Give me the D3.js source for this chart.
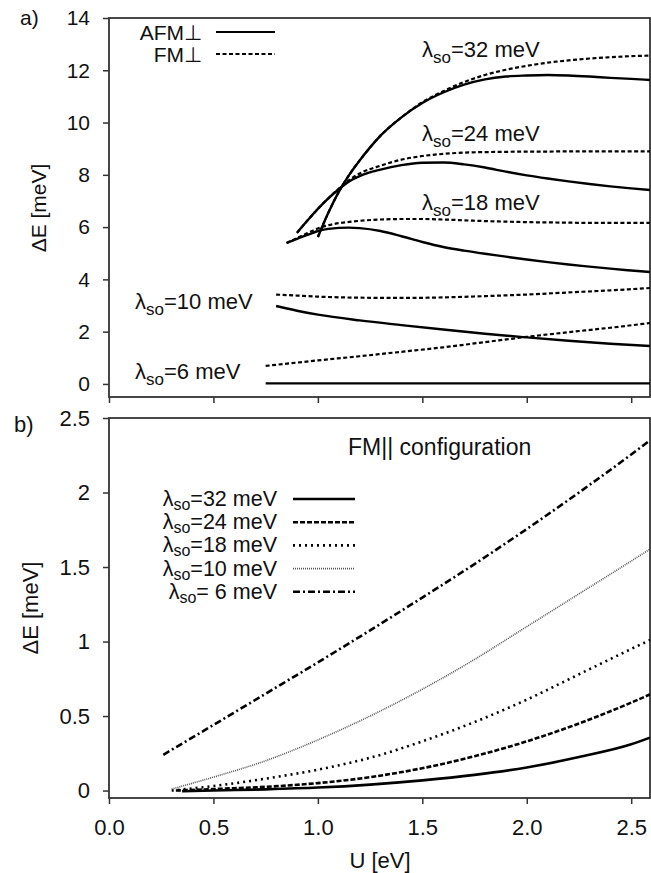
<!DOCTYPE html>
<html>
<head>
<meta charset="utf-8">
<script src="https://cdn.jsdelivr.net/npm/d3@7"></script>
<style>
  body { margin: 0; background: #fff; }
  text { font-family: "Liberation Sans", Arial, sans-serif; fill: #111; }
</style>
</head>
<body>
<div id="chart"></div>
<script>
// ---------------- data: panel a) (perpendicular configurations) ----------------
const u32 = [1.0, 1.05, 1.1, 1.15, 1.2, 1.25, 1.3, 1.4, 1.5, 1.6, 1.7, 1.8, 1.9, 2.0, 2.1, 2.2, 2.3, 2.4, 2.5, 2.59];
const afm32 = [5.62, 6.55, 7.35, 8.0, 8.55, 9.05, 9.5, 10.2, 10.75, 11.15, 11.45, 11.65, 11.76, 11.8, 11.82, 11.8, 11.76, 11.71, 11.67, 11.63];
const fm32 = [5.62, 6.55, 7.35, 8.0, 8.55, 9.05, 9.5, 10.2, 10.78, 11.2, 11.55, 11.82, 12.02, 12.17, 12.29, 12.38, 12.45, 12.5, 12.54, 12.56];

const u24 = [0.9, 0.95, 1.0, 1.05, 1.1, 1.15, 1.2, 1.3, 1.4, 1.5, 1.6, 1.7, 1.8, 1.9, 2.0, 2.1, 2.2, 2.3, 2.4, 2.5, 2.59];
const afm24 = [5.78, 6.25, 6.7, 7.1, 7.45, 7.75, 7.95, 8.2, 8.37, 8.46, 8.47, 8.4, 8.28, 8.12, 7.98, 7.86, 7.75, 7.65, 7.56, 7.48, 7.42];
const fm24 = [5.78, 6.25, 6.7, 7.1, 7.47, 7.8, 8.05, 8.35, 8.58, 8.72, 8.8, 8.85, 8.87, 8.88, 8.89, 8.89, 8.9, 8.9, 8.9, 8.9, 8.9];

const u18 = [0.85, 0.9, 0.95, 1.0, 1.05, 1.1, 1.15, 1.2, 1.3, 1.4, 1.5, 1.6, 1.7, 1.8, 1.9, 2.0, 2.1, 2.2, 2.3, 2.4, 2.5, 2.59];
const afm18 = [5.39, 5.55, 5.7, 5.85, 5.93, 5.97, 5.98, 5.96, 5.85, 5.65, 5.43, 5.24, 5.1, 4.98, 4.87, 4.76, 4.66, 4.57, 4.49, 4.41, 4.34, 4.28];
const fm18 = [5.39, 5.58, 5.77, 5.95, 6.07, 6.15, 6.2, 6.24, 6.29, 6.31, 6.31, 6.29, 6.26, 6.23, 6.21, 6.19, 6.18, 6.17, 6.16, 6.16, 6.16, 6.16];

const u10 = [0.8, 0.9, 1.0, 1.2, 1.4, 1.6, 1.8, 2.0, 2.2, 2.4, 2.59];
const afm10 = [2.98, 2.8, 2.65, 2.43, 2.25, 2.08, 1.92, 1.78, 1.65, 1.54, 1.45];
const fm10 = [3.42, 3.38, 3.34, 3.3, 3.29, 3.31, 3.36, 3.42, 3.5, 3.58, 3.67];

const u6 = [0.75, 1.0, 1.2, 1.4, 1.6, 1.8, 2.0, 2.2, 2.4, 2.59];
const afm6 = [0.02, 0.02, 0.02, 0.02, 0.02, 0.02, 0.02, 0.02, 0.02, 0.02];
const fm6 = [0.69, 0.9, 1.06, 1.23, 1.4, 1.6, 1.8, 1.98, 2.15, 2.33];

// ---------------- data: panel b) (FM|| configuration) ----------------
const uPar = [0.5, 0.75, 1.0, 1.25, 1.5, 1.75, 2.0, 2.25, 2.5, 2.59];
const par32 = [0.0, 0.008, 0.02, 0.04, 0.068, 0.105, 0.155, 0.225, 0.31, 0.355];
const par24 = [0.01, 0.025, 0.05, 0.09, 0.15, 0.23, 0.33, 0.45, 0.59, 0.645];
const par18 = [0.03, 0.08, 0.14, 0.22, 0.33, 0.46, 0.61, 0.78, 0.95, 1.01];
const par10 = [0.09, 0.2, 0.34, 0.5, 0.68, 0.88, 1.1, 1.32, 1.54, 1.62];
const par6 = [0.44, 0.65, 0.86, 1.075, 1.295, 1.52, 1.755, 2.0, 2.255, 2.35];
const parStartU = [0.35, 0.32, 0.3, 0.3, 0.26];
const parStartE = [-0.005, 0.0, 0.0, 0.01, 0.24];
const parLabels = ["=32 meV", "=24 meV", "=18 meV", "=10 meV", "= 6 meV"];

const xTicks = [0.0, 0.5, 1.0, 1.5, 2.0, 2.5];
const yTicksA = [0, 2, 4, 6, 8, 10, 12, 14];
const yTicksB = [0, 0.5, 1, 1.5, 2, 2.5];

const width = 651;
const height = 873;
const left = 109, right = 650;

const svg = d3.select("#chart").append("svg")
    .attr("width", width)
    .attr("height", height);

const x = d3.scaleLinear().domain([0, 2.59]).range([left, right]);
const yA = d3.scaleLinear().domain([-0.5, 14]).range([397, 18]);
const yB = d3.scaleLinear().domain([-0.05, 2.5]).range([798, 418]);

function frame(y, yTicks, fmt, fs, showX) {
    const top = y.range()[1], bottom = y.range()[0];
    // y axis
    const ya = svg.append("g")
        .attr("transform", `translate(${left},0)`)
        .call(d3.axisLeft(y).tickValues(yTicks).tickFormat(fmt).tickSize(6).tickPadding(13));
    ya.select(".domain").remove();
    ya.selectAll("text").style("font-size", fs + "px").style("font-family", "Liberation Sans, Arial, sans-serif");
    // x axis
    const xa = svg.append("g")
        .attr("transform", `translate(0,${bottom})`)
        .call(d3.axisBottom(x).tickValues(xTicks).tickFormat(showX ? d3.format(".1f") : "").tickSize(6).tickPadding(15));
    xa.select(".domain").remove();
    xa.selectAll("text").style("font-size", "22px").style("font-family", "Liberation Sans, Arial, sans-serif");
    svg.selectAll(".tick line").attr("stroke", "#333").attr("stroke-width", 1.5);
    svg.append("rect")
        .attr("x", left).attr("y", top)
        .attr("width", right - left).attr("height", bottom - top)
        .attr("fill", "none").attr("stroke", "#333").attr("stroke-width", 1.8);
}

frame(yA, yTicksA, d3.format("d"), 21, false);
frame(yB, yTicksB, (d) => String(d), 22, true);

function drawLine(us, es, y, dash, w, color) {
    const line = d3.line()
        .x((d) => x(d[0]))
        .y((d) => y(d[1]))
        .curve(d3.curveMonotoneX);
    svg.append("path")
        .datum(us.map((u, i) => [u, es[i]]))
        .attr("d", line)
        .attr("fill", "none")
        .attr("stroke", color || "#000")
        .attr("stroke-width", w)
        .attr("stroke-dasharray", dash);
}

// panel a)
const dashA = "4,2.5";
drawLine(u6, afm6, yA, null, 2.4);
drawLine(u6, fm6, yA, dashA, 2.2);
drawLine(u10, afm10, yA, null, 2.4);
drawLine(u10, fm10, yA, dashA, 2.2);
drawLine(u18, afm18, yA, null, 2.4);
drawLine(u18, fm18, yA, dashA, 2.2);
drawLine(u24, afm24, yA, null, 2.4);
drawLine(u24, fm24, yA, dashA, 2.2);
drawLine(u32, afm32, yA, null, 2.4);
drawLine(u32, fm32, yA, dashA, 2.2);

// panel b)
const parSeries = [par32, par24, par18, par10, par6];
const parDash = [null, "5,2", "2,4", "1,1", "7,3,2,3"];
const parWidth = [2.6, 2.6, 2.6, 1.6, 2.6];
const parColor = ["#000", "#000", "#000", "#555", "#000"];
parSeries.forEach((s, i) => {
    drawLine([parStartU[i]].concat(uPar), [parStartE[i]].concat(s), yB, parDash[i], parWidth[i], parColor[i]);
});

// lambda_so labels with subscript
function lambdaLabel(tx, ty, rest, fs, anchor, shiftFrac) {
    const t = svg.append("text")
        .attr("x", tx).attr("y", ty)
        .attr("text-anchor", anchor || "start")
        .style("font-size", fs + "px");
    const sub = Math.round(fs * 0.75);
    const shift = Math.round(fs * (shiftFrac || 0.27));
    t.append("tspan").text("λ");
    t.append("tspan").attr("dy", shift).style("font-size", sub + "px").text("so");
    t.append("tspan").attr("dy", -shift).text(rest);
}

lambdaLabel(422, 57, "=32 meV", 22);
lambdaLabel(422, 141, "=24 meV", 22);
lambdaLabel(422, 210, "=18 meV", 22);
lambdaLabel(135, 309, "=10 meV", 22);
lambdaLabel(135, 379, "=6 meV", 22);

// legend a)
const legA = [["AFM⊥", null, 32], ["FM⊥", dashA, 54]];
legA.forEach((l) => {
    svg.append("text").attr("x", 202).attr("y", l[2] + 8)
        .attr("text-anchor", "end").style("font-size", "21px").text(l[0]);
    svg.append("line").attr("x1", 216).attr("x2", 275)
        .attr("y1", l[2]).attr("y2", l[2])
        .attr("stroke", "#000").attr("stroke-width", 2.2)
        .attr("stroke-dasharray", l[1]);
});

// legend b)
svg.append("text").attr("x", 348).attr("y", 455)
    .style("font-size", "23px").text("FM|| configuration");
parLabels.forEach((lab, i) => {
    const ly = 499 + i * 23.2;
    lambdaLabel(277, ly + 7, lab, 21.5, "end", 0.2);
    svg.append("line").attr("x1", 293).attr("x2", 355)
        .attr("y1", ly).attr("y2", ly)
        .attr("stroke", parColor[i]).attr("stroke-width", parWidth[i])
        .attr("stroke-dasharray", parDash[i]);
});

// panel letters and axis titles
svg.append("text").attr("x", 20).attr("y", 25).style("font-size", "21px").text("a)");
svg.append("text").attr("x", 14).attr("y", 432).style("font-size", "22px").text("b)");

svg.append("text")
    .attr("transform", "translate(46,208) rotate(-90)")
    .attr("text-anchor", "middle").style("font-size", "21px").text("ΔE [meV]");
svg.append("text")
    .attr("transform", "translate(38,608) rotate(-90)")
    .attr("text-anchor", "middle").style("font-size", "22px").text("ΔE [meV]");
svg.append("text")
    .attr("x", 380).attr("y", 868)
    .attr("text-anchor", "middle").style("font-size", "22px").text("U [eV]");
</script>
</body>
</html>
